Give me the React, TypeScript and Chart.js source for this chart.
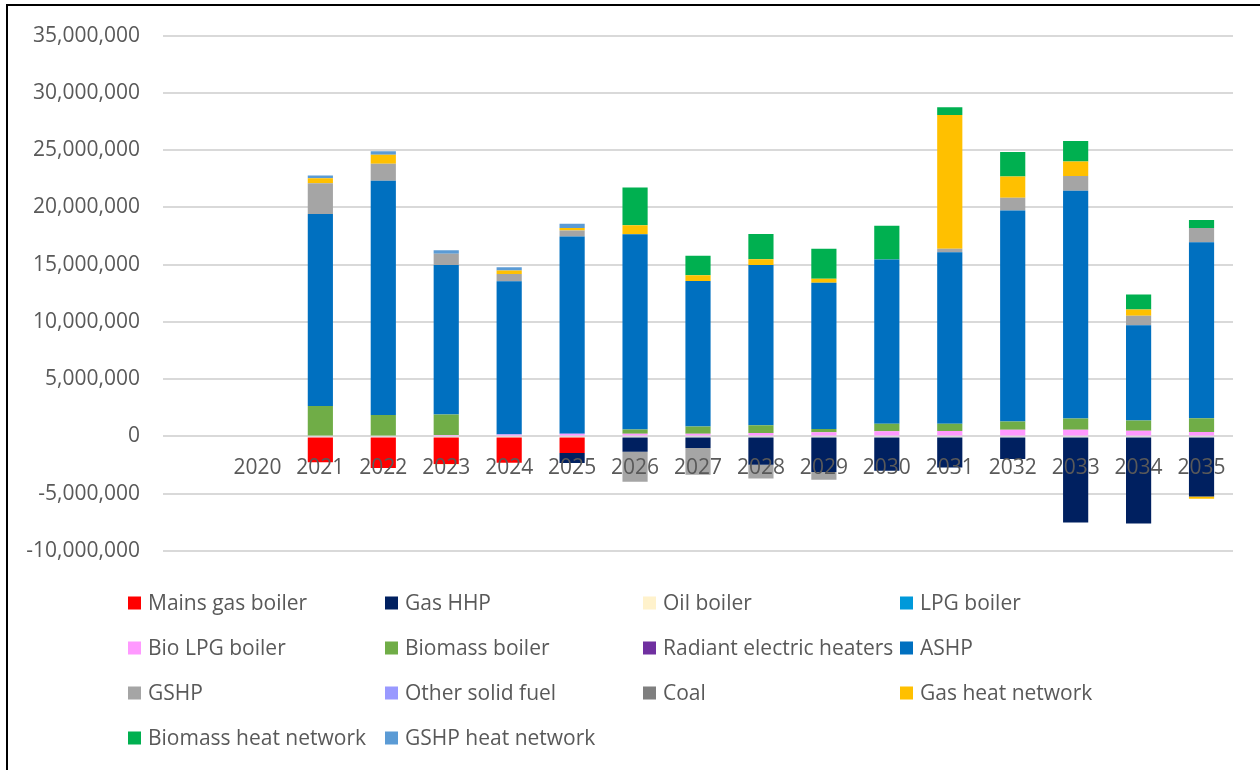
import React, { useEffect, useRef } from "react";
import { Chart, registerables } from "chart.js";

Chart.register(...registerables);

const categories = ["", "2020", "2021", "2022", "2023", "2024", "2025", "2026", "2027", "2028", "2029", "2030", "2031", "2032", "2033", "2034", "2035"];

const yTicks = [-10000000, -5000000, 0, 5000000, 10000000, 15000000, 20000000, 25000000, 30000000, 35000000];

const mainsGasBoiler = [0, 0, -2260000, -2750000, -2400000, -2300000, -1450000, 0, 0, 0, 0, 0, 0, 0, 0, 0, 0];
const gasHHP = [0, 0, 0, 0, 0, 0, -870000, -1330000, -1000000, -2460000, -3100000, -3000000, -2700000, -1970000, -7520000, -7600000, -5240000];
const oilBoiler = [0, 0, 0, 0, -80000, 0, 0, 0, 0, 0, 0, 0, 0, 0, 0, 0, 0];
const lpgBoiler = [0, 0, 0, 0, 0, 0, 0, 0, 0, 0, 0, 0, 0, 0, 0, 0, 0];
const bioLpgBoiler = [0, 0, 0, 0, 120000, 170000, 230000, 230000, 230000, 300000, 370000, 450000, 470000, 580000, 580000, 490000, 380000];
const biomassBoiler = [0, 0, 2670000, 1880000, 1800000, 0, 0, 370000, 630000, 670000, 290000, 670000, 640000, 720000, 980000, 900000, 1220000];
const radiantElectric = [0, 0, 0, 0, 0, 0, 0, 0, 0, 0, 0, 0, 0, 0, 0, 0, 0];
const ashp = [0, 0, 16750000, 20440000, 13060000, 13380000, 17230000, 17060000, 12710000, 13990000, 12770000, 14340000, 14970000, 18420000, 19900000, 8310000, 15350000];
const gshp = [0, 0, 2690000, 1500000, 980000, 640000, 520000, -2630000, -2350000, -1220000, -670000, 0, 320000, 1130000, 1280000, 840000, 1250000];
const otherSolidFuel = [0, 0, 0, 0, 0, 0, 0, 0, 0, 0, 0, 0, 0, 0, 0, 0, 0];
const coal = [0, 0, 0, 0, 0, 0, 0, 0, 0, 0, 0, 0, 0, 0, 0, 0, 0];
const gasHeatNetwork = [0, 0, 430000, 780000, 0, 290000, 230000, 780000, 500000, 520000, 350000, 0, 11670000, 1850000, 1270000, 550000, -200000];
const biomassHeatNetwork = [0, 0, 0, 0, 0, 0, 0, 3300000, 1710000, 2200000, 2600000, 2930000, 670000, 2140000, 1790000, 1300000, 700000];
const gshpHeatNetwork = [0, 0, 250000, 300000, 300000, 290000, 370000, 0, 0, 0, 0, 0, 0, 0, 0, 0, 0];

const seriesNames = [
  "Mains gas boiler", "Gas HHP", "Oil boiler", "LPG boiler",
  "Bio LPG boiler", "Biomass boiler", "Radiant electric heaters", "ASHP",
  "GSHP", "Other solid fuel", "Coal", "Gas heat network",
  "Biomass heat network", "GSHP heat network",
];
const seriesColors = [
  "#FF0000", "#002060", "#FFF2CC", "#0099DA",
  "#FF99FF", "#70AD47", "#7030A0", "#0070C0",
  "#A5A5A5", "#9999FF", "#7F7F7F", "#FFC000",
  "#00B050", "#5B9BD5",
];
const seriesValues = [
  mainsGasBoiler, gasHHP, oilBoiler, lpgBoiler,
  bioLpgBoiler, biomassBoiler, radiantElectric, ashp,
  gshp, otherSolidFuel, coal, gasHeatNetwork,
  biomassHeatNetwork, gshpHeatNetwork,
];

const FONT = "'Open Sans', 'Liberation Sans', sans-serif";
const TEXT = "#595959";

const legendColumns = [128, 385, 643, 900];
const legendRows = [603, 648, 693, 738];

const gridLegend = {
  id: "gridLegend",
  afterDraw(chart: any) {
    const ctx = chart.ctx;
    ctx.save();
    ctx.font = `21px ${FONT}`;
    ctx.textBaseline = "middle";
    ctx.textAlign = "left";
    chart.data.datasets.forEach((ds: any, i: number) => {
      const col = i % 4;
      const row = Math.floor(i / 4);
      const x = legendColumns[col];
      const y = legendRows[row];
      ctx.fillStyle = ds.backgroundColor;
      ctx.fillRect(x, y - 6.5, 13, 13);
      ctx.fillStyle = TEXT;
      ctx.fillText(ds.label, x + 20, y + 1);
    });
    ctx.restore();
  },
};

export default function App() {
  const ref = useRef<HTMLCanvasElement | null>(null);

  useEffect(() => {
    let chart: any = null;
    let cancelled = false;
    const make = () => {
      if (cancelled || !ref.current) return;
      chart = new Chart(ref.current, {
        type: "bar",
        data: {
          labels: categories,
          datasets: seriesNames.map((name, i) => ({
            label: name,
            data: seriesValues[i],
            backgroundColor: seriesColors[i],
            borderWidth: 0,
            barPercentage: 0.4,
            categoryPercentage: 1.0,
          })),
        },
        options: {
          responsive: false,
          animation: false,
          layout: { padding: { left: 0, top: 34, right: 27, bottom: 219 } },
          plugins: {
            legend: { display: false },
            tooltip: { enabled: false },
          },
          scales: {
            x: {
              stacked: true,
              position: { y: 0 } as any,
              grid: { display: false, drawTicks: false },
              border: { display: false },
              ticks: {
                z: 1,
                color: TEXT,
                font: { family: FONT, size: 21 },
                padding: 19,
                maxRotation: 0,
                autoSkip: false,
              },
              afterFit(scale: any) {
                scale.height = 0;
              },
            },
            y: {
              stacked: true,
              min: yTicks[0],
              max: yTicks[yTicks.length - 1],
              afterBuildTicks(scale: any) {
                scale.ticks = yTicks.map((v) => ({ value: v }));
              },
              grid: { color: "#D9D9D9", lineWidth: 2, drawTicks: false },
              border: { display: false },
              ticks: {
                color: TEXT,
                font: { family: FONT, size: 21 },
                padding: 23,
                callback: (v: any) => Number(v).toLocaleString("en-US"),
              },
              afterFit(scale: any) {
                scale.width = 163;
              },
            },
          },
        },
        plugins: [gridLegend],
      } as any);
    };
    const fonts: any = (document as any).fonts;
    if (fonts && fonts.load) {
      fonts.load(`21px 'Open Sans'`).then(make, make);
    } else {
      make();
    }
    return () => {
      cancelled = true;
      if (chart) chart.destroy();
    };
  }, []);

  return (
    <div style={{ position: "absolute", left: 0, top: 0, width: 1260, height: 770, overflow: "hidden", background: "#fff" }}>
      <div style={{ position: "absolute", left: 6, top: 4, width: 1300, height: 800, borderLeft: "2px solid #000", borderTop: "2px solid #000" }} />
      <canvas ref={ref} width={1260} height={770} style={{ position: "absolute", left: 0, top: 0, width: 1260, height: 770 }} />
    </div>
  );
}
